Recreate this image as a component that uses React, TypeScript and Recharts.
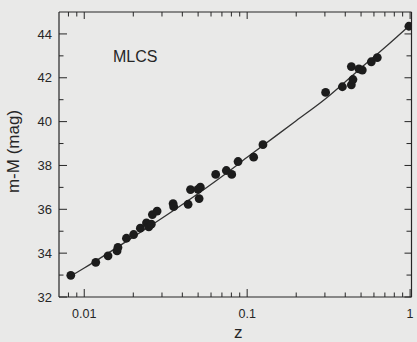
import React from 'react';
import {
  ComposedChart,
  Line,
  Scatter,
  XAxis,
  YAxis,
} from 'recharts';

// supernova points: redshift z and distance modulus m-M
const snZ = [
  0.00827, 0.01177, 0.014, 0.0159, 0.0161, 0.01815, 0.0201, 0.0221, 0.0241, 0.0249,
  0.0258, 0.0262, 0.028, 0.0351, 0.0354, 0.0434, 0.0449, 0.0499, 0.0507, 0.0516,
  0.0641, 0.0745, 0.0804, 0.0879, 0.1096, 0.125, 0.303, 0.384, 0.436, 0.446,
  0.436, 0.485, 0.509, 0.578, 0.629, 0.983,
];
const snMag = [
  32.99, 33.58, 33.88, 34.1, 34.26, 34.68, 34.85, 35.14, 35.38, 35.2,
  35.32, 35.76, 35.92, 36.26, 36.12, 36.23, 36.9, 36.91, 36.49, 37.01,
  37.59, 37.77, 37.59, 38.18, 38.38, 38.95, 41.33, 41.59, 41.68, 41.92,
  42.51, 42.41, 42.35, 42.73, 42.92, 44.35,
];

// fitted curve
const fitZ = [0.008, 0.01, 0.02, 0.04, 0.07, 0.1, 0.2, 0.3, 0.5, 0.7, 1.0];
const fitMag = [32.89, 33.32, 34.74, 36.22, 37.5, 38.37, 40.04, 41.02, 42.45, 43.38, 44.41];

const zMajor = [0.01, 0.1, 1];
const zMinor = [
  0.008, 0.009,
  0.02, 0.03, 0.04, 0.05, 0.06, 0.07, 0.08, 0.09,
  0.2, 0.3, 0.4, 0.5, 0.6, 0.7, 0.8, 0.9,
];
const magTicks = [32, 33, 34, 35, 36, 37, 38, 39, 40, 41, 42, 43, 44];

const points = snZ.map((z, i) => ({ z, mag: snMag[i] }));
const fit = fitZ.map((z, i) => ({ z, mag: fitMag[i] }));
const zTicks = [...zMinor, ...zMajor].sort((a, b) => a - b);

const ink = '#262626';
const font = '"Liberation Sans", Arial, sans-serif';

function BottomTick(props: any) {
  const { x, y, payload } = props;
  const major = zMajor.includes(payload.value);
  return (
    <g>
      <line x1={x} x2={x} y1={y} y2={y - (major ? 8 : 4.5)} stroke={ink} strokeWidth={1} />
      {major && (
        <text x={x} y={y + 21} textAnchor="middle" fontSize={12.5} fill={ink} fontFamily={font}>
          {String(payload.value)}
        </text>
      )}
    </g>
  );
}

function TopTick(props: any) {
  const { x, y, payload } = props;
  const major = zMajor.includes(payload.value);
  return <line x1={x} x2={x} y1={y} y2={y + (major ? 7 : 4.5)} stroke={ink} strokeWidth={1} />;
}

function LeftTick(props: any) {
  const { x, y, payload } = props;
  const major = payload.value % 2 === 0;
  return (
    <g>
      <line x1={x} x2={x + (major ? 8 : 4.5)} y1={y} y2={y} stroke={ink} strokeWidth={1} />
      {major && (
        <text x={x - 7} y={y + 4.7} textAnchor="end" fontSize={13} fill={ink} fontFamily={font}>
          {payload.value}
        </text>
      )}
    </g>
  );
}

function RightTick(props: any) {
  const { x, y, payload } = props;
  const major = payload.value % 2 === 0;
  return <line x1={x} x2={x - (major ? 7 : 5)} y1={y} y2={y} stroke={ink} strokeWidth={1} />;
}

const Dot = (p: any) => <circle cx={p.cx} cy={p.cy} r={4.4} fill="#1c1c1c" />;
const NoDot = () => <g />;

export default function App() {
  return (
    <div
      style={{
        position: 'absolute',
        left: 0,
        top: 0,
        width: 417,
        height: 342,
        background: '#e9e9e8',
        overflow: 'hidden',
      }}
    >
      <ComposedChart
        width={417}
        height={342}
        margin={{ top: 11, right: 4.5, left: 0, bottom: 0 }}
      >
        <XAxis
          dataKey="z"
          type="number"
          scale="log"
          domain={[0.007, 1.02]}
          allowDataOverflow
          ticks={zTicks}
          interval={0}
          height={45}
          tickSize={0}
          tickMargin={0}
          tick={<BottomTick />}
          axisLine={{ stroke: ink, strokeWidth: 1.2 }}
        />
        <XAxis
          xAxisId="top"
          orientation="top"
          dataKey="z"
          type="number"
          scale="log"
          domain={[0.007, 1.02]}
          allowDataOverflow
          ticks={zTicks}
          interval={0}
          height={1}
          tickSize={0}
          tickMargin={0}
          tick={<TopTick />}
          axisLine={{ stroke: ink, strokeWidth: 1.2 }}
        />
        <YAxis
          type="number"
          domain={[32, 45]}
          allowDataOverflow
          ticks={magTicks}
          interval={0}
          width={59}
          tickSize={0}
          tickMargin={0}
          tick={<LeftTick />}
          axisLine={{ stroke: ink, strokeWidth: 1.2 }}
          label={{
            value: 'm-M (mag)',
            angle: -90,
            position: 'insideLeft',
            dx: 8,
            dy: -3,
            style: { fontSize: 17, fill: ink, fontFamily: font, textAnchor: 'middle' },
          }}
        />
        <YAxis
          yAxisId="right"
          orientation="right"
          type="number"
          domain={[32, 45]}
          allowDataOverflow
          ticks={magTicks}
          interval={0}
          width={1}
          tickSize={0}
          tickMargin={0}
          tick={<RightTick />}
          axisLine={{ stroke: ink, strokeWidth: 1.2 }}
        />
        <Line
          data={fit}
          dataKey="mag"
          type="monotone"
          stroke="#333"
          strokeWidth={1.3}
          dot={false}
          activeDot={false}
          isAnimationActive={false}
        />
        <Scatter data={points} dataKey="mag" shape={Dot} isAnimationActive={false} />
        {/* invisible copy so the mirrored frame axes get drawn */}
        <Scatter
          xAxisId="top"
          yAxisId="right"
          data={points}
          dataKey="mag"
          shape={NoDot}
          isAnimationActive={false}
        />
      </ComposedChart>
      <div
        style={{
          position: 'absolute',
          left: 234,
          top: 323,
          fontSize: 17,
          fontFamily: font,
          color: ink,
        }}
      >
        z
      </div>
      <div
        style={{
          position: 'absolute',
          left: 113,
          top: 48,
          fontSize: 16,
          fontFamily: font,
          color: ink,
        }}
      >
        MLCS
      </div>
    </div>
  );
}
